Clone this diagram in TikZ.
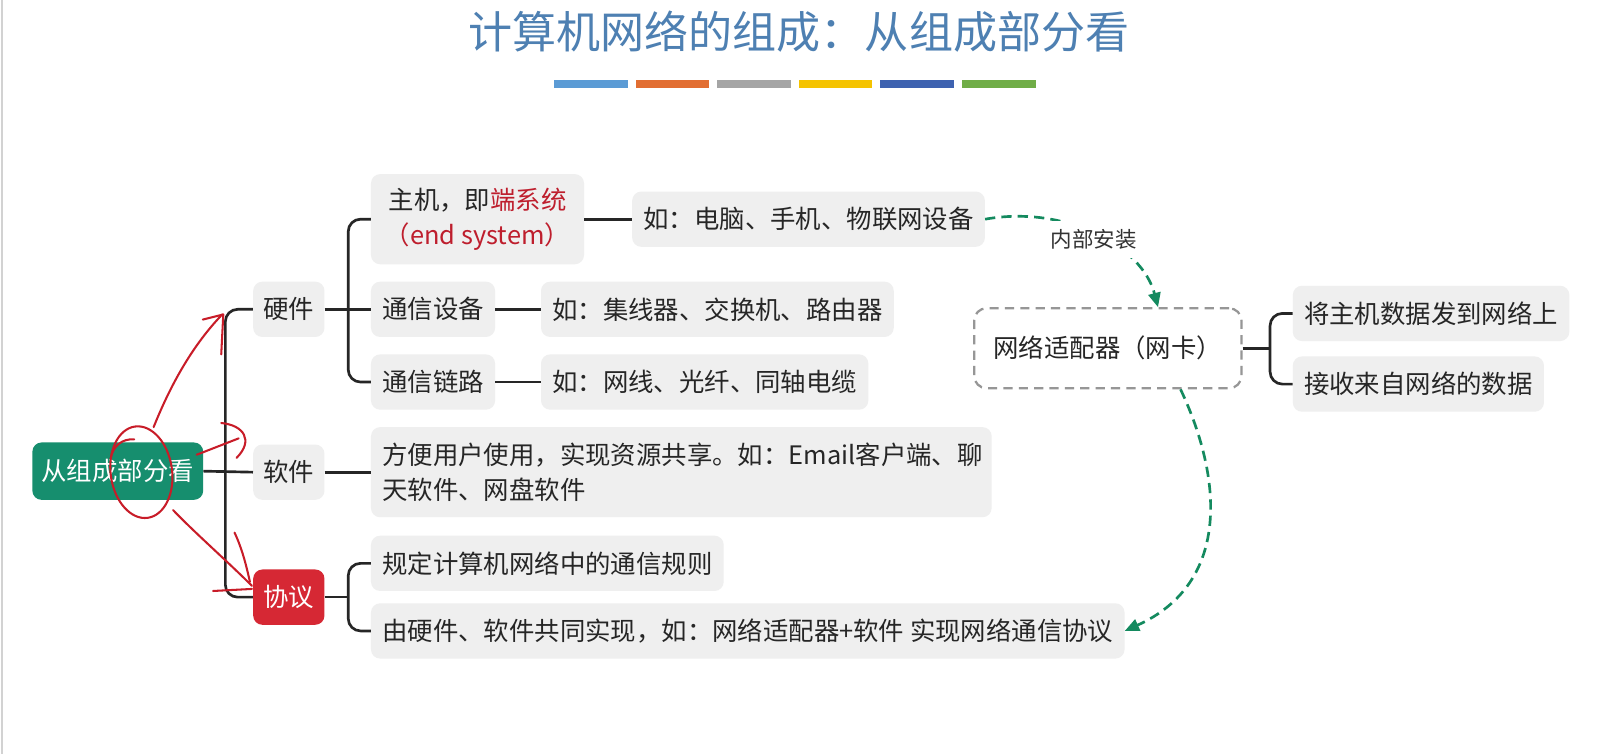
\documentclass[tikz,border=0pt]{standalone}
\usepackage{fontspec}
\setmainfont{Noto Sans CJK SC}
\usepackage{xcolor}
\usetikzlibrary{arrows.meta}
\definecolor{rootgreen}{RGB}{22,142,110}
\definecolor{protored}{RGB}{214,40,52}
\definecolor{keyred}{RGB}{190,30,45}
\definecolor{boxgray}{RGB}{239,239,239}
\definecolor{nicgray}{RGB}{150,150,150}
\definecolor{installgreen}{RGB}{20,138,95}
\definecolor{titleblue}{RGB}{78,128,178}
\definecolor{penred}{RGB}{200,28,40}
\definecolor{barA}{RGB}{91,155,213}
\definecolor{barB}{RGB}{226,110,50}
\definecolor{barC}{RGB}{165,165,165}
\definecolor{barD}{RGB}{245,195,0}
\definecolor{barE}{RGB}{62,98,176}
\definecolor{barF}{RGB}{112,173,71}
\newcommand\boxfont{\fontsize{24.8}{35}\selectfont}

\begin{document}
\begin{tikzpicture}[x=1pt, y=-1pt,
  topic/.style={fill=boxgray, rounded corners=9pt, font=\boxfont, text=black!85, inner xsep=11pt, inner ysep=0pt, minimum height=54pt, anchor=west},
  rootbox/.style={topic, fill=rootgreen, text=white, anchor=center, minimum width=166pt, minimum height=56pt},
  protobox/.style={topic, fill=protored, text=white},
  nicbox/.style={draw=nicgray, dash pattern=on 9pt off 6pt, line width=2.2pt, rounded corners=12pt, font=\boxfont, text=black!85, minimum width=261pt, minimum height=78pt, anchor=west},
  branch/.style={line width=2.6pt, black!85},
  install/.style={installgreen, line width=2.6pt, dash pattern=on 10pt off 6pt, -{Triangle[length=14pt, width=12pt]}},
  installnote/.style={font=\fontsize{21}{24}\selectfont, fill=white, inner sep=8pt, text=black!80},
  pen/.style={penred, line width=2pt, line cap=round, line join=round}
]
\fill[white] (0,0) rectangle (1568,736);
\useasboundingbox (0,0) rectangle (1568,736);
\draw[gray!35, line width=2pt] (1.5,0) -- (1.5,736);

% title and colour bars
\node[font=\fontsize{43}{50}\selectfont, text=titleblue] (title) at (780,31) {计算机网络的组成：从组成部分看};
\foreach \c [count=\i from 0] in {barA,barB,barC,barD,barE,barF}
  \fill[\c] (541+79.6*\i,78) rectangle ++(72,8);

\node[rootbox, inner xsep=9pt] (root) at (115,460) {从组成部分看};

\node[topic, inner xsep=10pt] (hw) at (247,302) {硬件};
\node[topic, inner xsep=10pt] (sw) at (247,461) {软件};
\node[protobox, inner xsep=10pt] (proto) at (247,583) {协议};

\node[topic, align=center, minimum width=208pt, minimum height=88pt] (host) at (362,214)
  {主机，即\textcolor{keyred}{端系统}\\\textcolor{keyred}{（end system）}};
\node[topic] (dev) at (362,302) {通信设备};
\node[topic] (link) at (362,373) {通信链路};

\node[topic] (hostex) at (617,214) {如：电脑、手机、物联网设备};
\node[topic] (devex) at (528,302) {如：集线器、交换机、路由器};
\node[topic] (linkex) at (528,373) {如：网线、光纤、同轴电缆};

\node[topic, align=left, text width=584pt, inner xsep=11pt, minimum height=88pt] (swdesc) at (362,461)
  {方便用户使用，实现资源共享。如：Email客户端、聊\\天软件、网盘软件};

\node[topic] (rule) at (362,550) {规定计算机网络中的通信规则};
\node[topic] (impl) at (362,616) {由硬件、软件共同实现，如：网络适配器+软件 实现网络通信协议};

\node[nicbox] (nic) at (950,340) {网络适配器（网卡）};
\node[topic] (nicsend) at (1262,306) {将主机数据发到网络上};
\node[topic] (nicrecv) at (1262,375) {接收来自网络的数据};

\coordinate (spine) at (220,460);
\coordinate (hwfork) at (340,302);
\coordinate (protofork) at (340,583);
\coordinate (nicfork) at (1240,340);

\draw[branch] (root.east) -- (sw.west);
\draw[branch, rounded corners=12pt] (hw.west) -| (spine) |- (proto.west);
\draw[branch] (hw.east) -- (dev.west);
\draw[branch, rounded corners=12pt] (host.west) -| (hwfork) |- (link.west);
\draw[branch] (host.east) -- (hostex.west);
\draw[branch] (dev.east) -- (devex.west);
\draw[branch] (link.east) -- (linkex.west);
\draw[branch] (sw.east) -- (swdesc.west);
\draw[branch] (proto.east) -- (protofork);
\draw[branch, rounded corners=12pt] (rule.west) -| (protofork) |- (impl.west);
\draw[branch] (nic.east) -- (nicfork);
\draw[branch, rounded corners=12pt] (nicsend.west) -| (nicfork) |- (nicrecv.west);

\draw[install] (hostex.east) .. controls (1040,200) and (1115,240) .. ([xshift=49pt]nic.north);
\node[installnote] (installlbl) at (1068,234) {内部安装};
\draw[install] ([xshift=71pt]nic.south) .. controls (1195,470) and (1200,570) .. (impl.east);

% pen marks
\draw[pen, rotate around={8:(138,461)}] (138,461) ellipse [x radius=30, y radius=45];
\draw[pen] (108,448) .. controls (110,435) and (120,428) .. (131,429);
\draw[pen] (150,417) .. controls (168,372) and (190,335) .. (217,307);
\draw[pen] (198,312) -- (218,307) -- (216,346);
\draw[pen] (192,444) -- (233,428);
\draw[pen] (216,413) .. controls (238,415) and (248,430) .. (231,447);
\draw[pen] (169,498) .. controls (190,520) and (222,548) .. (246,572);
\draw[pen] (229,520) .. controls (236,535) and (240,550) .. (244,568);
\draw[pen] (208,577) -- (246,575);
\end{tikzpicture}
\end{document}
